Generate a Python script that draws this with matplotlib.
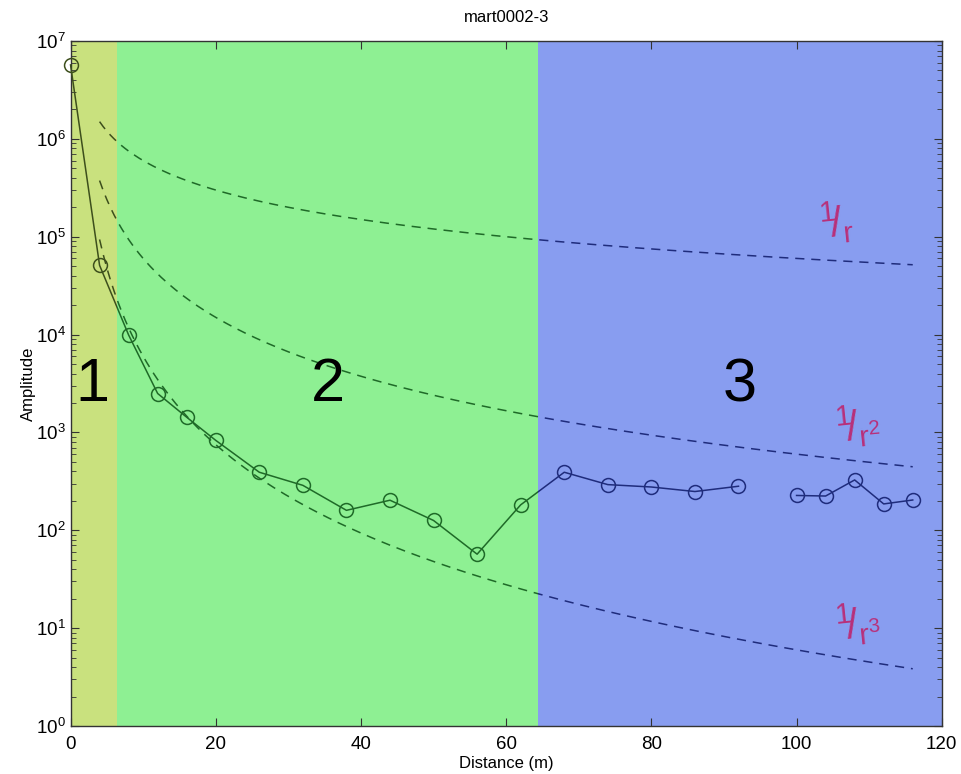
import numpy as np
import matplotlib
matplotlib.use("Agg")
import matplotlib.pyplot as plt
from matplotlib.patches import Rectangle
from matplotlib.ticker import LogLocator

plt.rcParams['font.family'] = ['Liberation Sans', 'DejaVu Sans']
plt.rcParams['mathtext.default'] = 'regular'

# measured amplitudes (gap between 92 and 100 m)
distance = [0, 4, 8, 12, 16, 20, 26, 32, 38, 44, 50, 56, 62,
            68, 74, 80, 86, 92, 96, 100, 104, 108, 112, 116]
amplitude = [5.7e6, 5.1e4, 9.9e3, 2.5e3, 1.43e3, 830, 392, 288, 160, 203, 126, 57, 182,
             392, 293, 277, 249, 282, np.nan, 227, 224, 327, 186, 204]

# geometric spreading reference curves A / r^n
ref_amp = 6e6
ref_powers = [1, 2, 3]
ref_labels = [r'$^1\!/_r$', r'$^1\!/_{r^2}$', r'$^1\!/_{r^3}$']
ref_label_pos = [(105.5, 1.4e5), (108.5, 1.15e3), (108.5, 11)]

# zones
zone_edges = [0, 6.4, 64.4, 120]
zone_colors = ['#c9e17e', '#8ef093', '#889df0']
line_colors = ['#3d4f1c', '#1f6a28', '#1f2c7c']
zone_names = ['1', '2', '3']
zone_label_x = [3.0, 35.5, 92.2]

fig = plt.figure(figsize=(9.61, 7.74), dpi=100)
ax = fig.add_axes([0.0734, 0.062, 0.9066, 0.885])

for i in range(3):
    ax.axvspan(zone_edges[i], zone_edges[i + 1], color=zone_colors[i], lw=0, zorder=0)

r = np.arange(4, 116.5, 0.5)
for i in range(3):
    x0 = zone_edges[i] if i > 0 else -10
    x1 = zone_edges[i + 1] if i < 2 else 130
    clip = Rectangle((x0, 1e-2), x1 - x0, 1e10, transform=ax.transData)
    lines = ax.plot(distance, amplitude, '-o', color=line_colors[i], lw=1.1,
                    ms=10, mfc='none', mew=1.1, zorder=3)
    for n in ref_powers:
        lines += ax.plot(r, ref_amp / r**n, '--', color=line_colors[i], lw=1.1,
                         dashes=(6, 4.5), zorder=2)
    for ln in lines:
        ln.set_clip_path(clip)

for txt, (tx, ty) in zip(ref_labels, ref_label_pos):
    ax.text(tx, ty, txt, color='#b8307a', fontsize=30, ha='center', va='center',
            rotation=6, zorder=4)

for name, zx in zip(zone_names, zone_label_x):
    ax.text(zx, 3.0e3, name, fontsize=44, ha='center', va='center', color='black', zorder=4)

ax.set_yscale('log')
ax.set_xlim(0, 120)
ax.set_ylim(1, 1e7)
ax.set_xticks(range(0, 121, 20))
ax.yaxis.set_major_locator(LogLocator(base=10, numticks=10))
ax.yaxis.set_minor_locator(LogLocator(base=10, subs=np.arange(2, 10), numticks=10))
ax.tick_params(which='both', direction='in', top=True, right=True, labelsize=13.5,
               color='#333333')
ax.tick_params(which='major', length=6)
ax.tick_params(which='minor', length=3.5)
ax.tick_params(axis='x', pad=7)
for sp in ax.spines.values():
    sp.set_color('#333333')
    sp.set_linewidth(1.0)

ax.set_xlabel('Distance (m)', fontsize=12, labelpad=2)
ax.set_ylabel('Amplitude', fontsize=12, labelpad=0)
ax.set_title('mart0002-3', fontsize=12, pad=14)

fig.savefig('out.png', dpi=100)
